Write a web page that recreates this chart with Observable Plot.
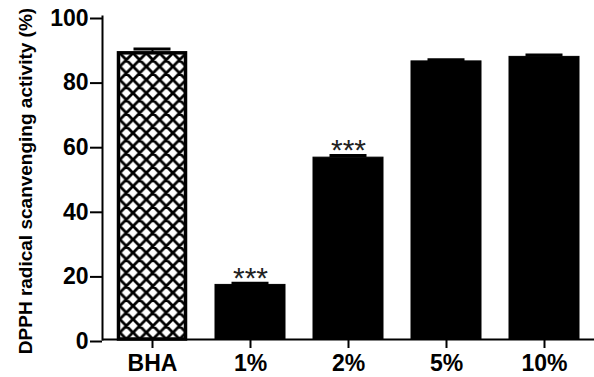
<!DOCTYPE html>
<html>
<head>
<meta charset="utf-8">
<script src="https://cdn.jsdelivr.net/npm/d3@7"></script>
<script src="https://cdn.jsdelivr.net/npm/@observablehq/plot@0.6"></script>
<style>
  html, body { margin: 0; padding: 0; background: #fff; }
  #chart svg { display: block; }
</style>
</head>
<body>
<div id="chart"></div>
<script>
// ---- data ----
const categories = ["BHA", "1%", "2%", "5%", "10%"];
const values     = [88.6, 16.9, 56.3, 86.1, 87.5];
const errors     = [1.3, 0.5, 0.7, 0.5, 0.6];
const marks      = ["", "***", "***", "", ""];
const yTicks     = [0, 20, 40, 60, 80, 100];
const yLabel     = "DPPH radical scanvenging activity (%)";

const data = categories.map((c, i) => ({cat: c, v: values[i], e: errors[i], top: values[i] + errors[i], sig: marks[i], hatched: i === 0}));

const font = "'Liberation Sans', Arial, Helvetica, sans-serif";

const chart = Plot.plot({
  width: 594,
  height: 377,
  marginLeft: 102,
  marginRight: 0,
  marginTop: 16,
  marginBottom: 38,
  style: {fontFamily: font, background: "#fff", color: "#000"},
  x: {domain: categories, paddingInner: 0.29, paddingOuter: 0.145, label: null},
  y: {domain: [0, 100], label: null},
  marks: [
    // bars
    Plot.barY(data.filter(d => !d.hatched), {x: "cat", y: "v", fill: "#000", stroke: "#000", strokeWidth: 1}),
    Plot.barY(data.filter(d => d.hatched), {x: "cat", y: "v", fill: "url(#hatch)", stroke: "#000", strokeWidth: 3.5, insetLeft: 1.5, insetRight: 1.5}),
    // error bars
    Plot.ruleX(data, {x: "cat", y1: "v", y2: "top", stroke: "#000", strokeWidth: 2}),
    Plot.tickY(data, {x: "cat", y: "top", stroke: "#000", strokeWidth: 3, insetLeft: 16.5, insetRight: 16.5}),
    // significance stars
    Plot.text(data.filter(d => d.sig), {x: "cat", y: "top", text: "sig", fontSize: 30, fontWeight: "normal", lineAnchor: "bottom", dy: 5, fill: "#222"}),
    // axes
    Plot.axisY({ticks: yTicks, tickSize: 12, tickPadding: 2, fontSize: 23, fontWeight: "bold", strokeWidth: 2, label: null, dy: 2}),
    Plot.axisX({tickSize: 9, tickPadding: 6, fontSize: 23, fontWeight: "bold", strokeWidth: 2, label: null}),
    Plot.frame({anchor: "left", stroke: "#000", strokeWidth: 2}),
    Plot.ruleY([0], {stroke: "#000", strokeWidth: 2}),
    // y axis title
    Plot.text([yLabel], {frameAnchor: "left", rotate: -90, dx: -71, dy: 3, textAnchor: "middle", lineAnchor: "bottom", fontSize: 19, fontWeight: "bold", fill: "#000"})
  ]
});

// hatch pattern definition
const svg = d3.select(chart);
const w = 13.3;
const defs = svg.insert("defs", ":first-child");
const pat = defs.append("pattern")
  .attr("id", "hatch")
  .attr("patternUnits", "userSpaceOnUse")
  .attr("width", w).attr("height", w);
pat.append("rect").attr("width", w).attr("height", w).attr("fill", "#fff");
let p = "";
for (const c of [-w, 0, w]) p += `M${c - w},${-w}L${c + 2 * w},${2 * w}`;
for (const c of [0, w, 2 * w]) p += `M${c + w},${-w}L${c - 2 * w},${2 * w}`;
pat.append("path").attr("d", p).attr("stroke", "#000").attr("stroke-width", 2.8).attr("fill", "none");

document.getElementById("chart").appendChild(chart);
</script>
</body>
</html>
